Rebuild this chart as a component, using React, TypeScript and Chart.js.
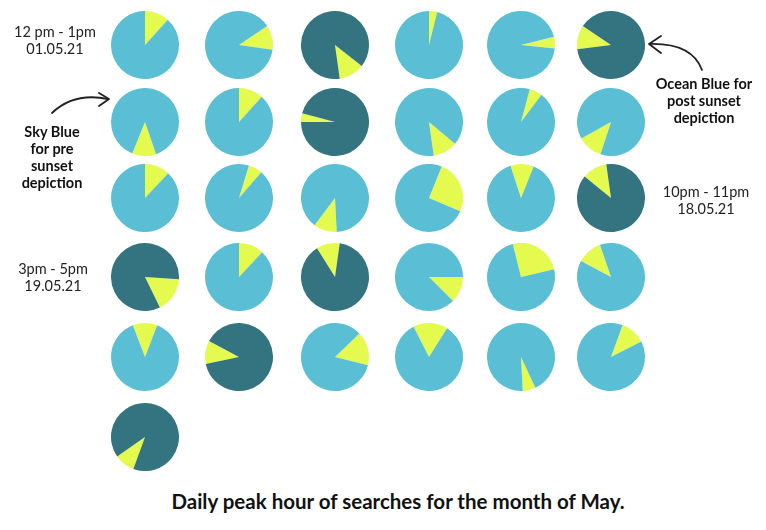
import React, { useEffect, useRef } from "react";
import { Chart, registerables } from "chart.js";
Chart.register(...registerables);

// Day of May 2021 for each pie
const dayLabels = [
  "01.05.21", "02.05.21", "03.05.21", "04.05.21", "05.05.21", "06.05.21",
  "07.05.21", "08.05.21", "09.05.21", "10.05.21", "11.05.21", "12.05.21",
  "13.05.21", "14.05.21", "15.05.21", "16.05.21", "17.05.21", "18.05.21",
  "19.05.21", "20.05.21", "21.05.21", "22.05.21", "23.05.21", "24.05.21",
  "25.05.21", "26.05.21", "27.05.21", "28.05.21", "29.05.21", "30.05.21",
  "31.05.21",
];

// Peak-hour wedge on a 12-hour clock face, in degrees clockwise from 12 o'clock
const peakStartDeg = [
  0, 56, 128, 0, 76, 263,
  161, 0, 270, 130, 15, 198,
  0, 17, 177, 22, 342, 309,
  94, 0, 328, 90, 346, 298,
  339, 258, 46, 333, 155, 20,
  200,
];
const peakEndDeg = [
  42, 98, 172, 14, 96, 304,
  202, 42, 285, 172, 37, 241,
  43, 41, 217, 113, 22, 352,
  154, 43, 8, 135, 77, 341,
  21, 298, 104, 32, 177, 63,
  235,
];
// true = peak after sunset (ocean blue), false = before sunset (sky blue)
const postSunset = [
  false, false, true, false, false, true,
  false, false, true, false, false, false,
  false, false, false, false, false, true,
  true, false, true, false, false, false,
  false, true, false, false, false, false,
  true,
];

const SKY = "#5ABFD4";
const OCEAN = "#347480";
const PEAK = "#E5FA4E";

const colX = [144.5, 238.7, 335.3, 428.8, 521.2, 611.3];
const rowY = [44.7, 121.5, 197.8, 276.7, 357, 437];
const R = 34;

function Pie({ i }: { i: number }) {
  const ref = useRef<HTMLCanvasElement>(null);
  useEffect(() => {
    const start = peakStartDeg[i];
    let end = peakEndDeg[i];
    if (end < start) end += 360;
    const w = end - start;
    const chart = new Chart(ref.current as HTMLCanvasElement, {
      type: "pie",
      data: {
        labels: ["Peak hour " + dayLabels[i], "Other"],
        datasets: [
          {
            data: [w, 360 - w],
            backgroundColor: [PEAK, postSunset[i] ? OCEAN : SKY],
            borderWidth: 0,
          },
        ],
      },
      options: {
        responsive: false,
        animation: false,
        rotation: start,
        events: [],
        layout: { padding: 0 },
        plugins: { legend: { display: false }, tooltip: { enabled: false } },
      },
    });
    return () => chart.destroy();
  }, [i]);
  const x = colX[i % 6];
  const y = rowY[Math.floor(i / 6)];
  return (
    <canvas
      ref={ref}
      width={R * 2}
      height={R * 2}
      style={{ position: "absolute", left: x - R, top: y - R, width: R * 2, height: R * 2 }}
    />
  );
}

function Label({ lines, cx, cy, bold, size }: { lines: string[]; cx: number; cy: number; bold?: boolean; size?: number }) {
  const lh = 17;
  return (
    <div
      style={{
        position: "absolute",
        left: cx - 100,
        width: 200,
        top: cy - lh / 2,
        textAlign: "center",
        fontFamily: "Lato, 'Noto Sans', sans-serif",
        fontWeight: bold ? 700 : 400,
        fontSize: size || 14.5,
        lineHeight: lh + "px",
        color: bold ? "#111" : "#222",
        whiteSpace: "nowrap",
      }}
    >
      {lines.map((l, k) => (
        <div key={k}>{l}</div>
      ))}
    </div>
  );
}

export default function App() {
  return (
    <div style={{ position: "fixed", left: 0, top: 0, width: 766, height: 530, background: "#fff", overflow: "hidden" }}>
      {dayLabels.map((_, i) => (
        <Pie key={i} i={i} />
      ))}
      <Label lines={["12 pm - 1pm", "01.05.21"]} cx={55} cy={31} />
      <Label lines={["Sky Blue", "for pre", "sunset", "depiction"]} cx={52} cy={131} bold size={14.5} />
      <Label lines={["3pm - 5pm", "19.05.21"]} cx={53} cy={268} />
      <Label lines={["Ocean Blue for", "post sunset", "depiction"]} cx={704} cy={83} bold size={14.5} />
      <Label lines={["10pm - 11pm", "18.05.21"]} cx={706} cy={191} />
      <div
        style={{
          position: "absolute",
          left: 0,
          width: 796,
          top: 489,
          textAlign: "center",
          fontFamily: "Lato, 'Noto Sans', sans-serif",
          fontWeight: 700,
          fontSize: 20.5,
          lineHeight: "24px",
          color: "#111",
        }}
      >
        Daily peak hour of searches for the month of May.
      </div>
      <svg width={766} height={530} style={{ position: "absolute", left: 0, top: 0, pointerEvents: "none" }}>
        <g fill="none" stroke="#222" strokeWidth={1.8} strokeLinecap="round" strokeLinejoin="round">
          <path d="M52,113 Q74,92 108,99" />
          <path d="M99,93 L109,99 L99,106" />
          <path d="M702,70 Q692,43 650,44" />
          <path d="M661,36 L649,44 L661,53" />
        </g>
      </svg>
    </div>
  );
}
